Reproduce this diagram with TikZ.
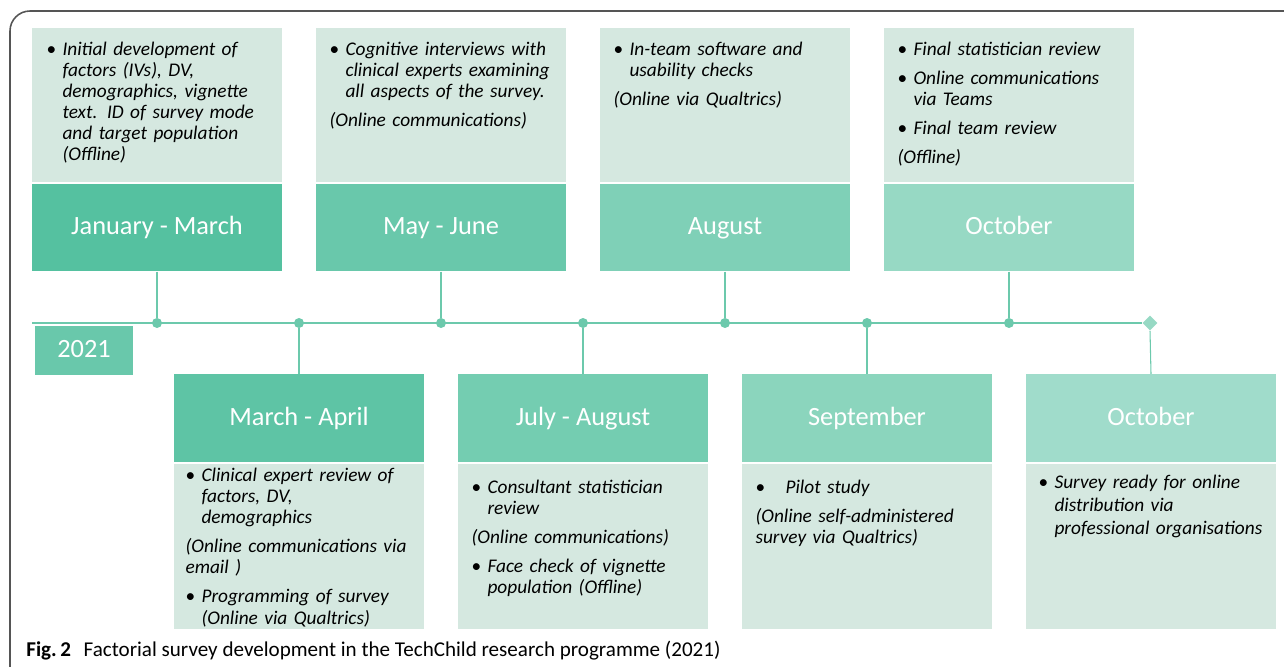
\documentclass[tikz,border=0pt]{standalone}
\usepackage{fontspec}
\usetikzlibrary{shapes.geometric}
\setmainfont{Carlito}
\setlength{\parindent}{0pt}
\definecolor{hdrA}{HTML}{55C1A0}
\definecolor{hdrB}{HTML}{5EC4A5}
\definecolor{hdrC}{HTML}{69C8AB}
\definecolor{hdrD}{HTML}{74CDB1}
\definecolor{hdrE}{HTML}{7FD0B7}
\definecolor{hdrF}{HTML}{8BD5BD}
\definecolor{hdrG}{HTML}{97D9C4}
\definecolor{hdrH}{HTML}{A0DCCB}
\definecolor{panelbg}{HTML}{D5E8E0}
\definecolor{linecol}{HTML}{6CC9AC}
\definecolor{framecol}{HTML}{555555}
\newcommand{\bul}[1]{\hangindent=0.32cm\hangafter=1\makebox[0.32cm][l]{\upshape\textbullet}#1\par}
\newcommand{\bulw}[1]{\hangindent=0.6cm\hangafter=1\makebox[0.6cm][l]{\upshape\textbullet}#1\par}
\newcommand{\plain}[1]{#1\par}
\begin{document}
\begin{tikzpicture}[x=0.02cm,y=-0.02cm,
hdr/.style={rectangle,inner sep=0pt,minimum width=5.02cm,minimum height=1.75cm,text=white,text height=1em,text depth=0.2em,font=\fontsize{15}{18}\selectfont},
panel/.style={rectangle,inner sep=0pt,fill=panelbg,minimum width=5.02cm},
note/.style={anchor=north west,inner sep=0pt,text width=4.7cm,align=left,font=\fontsize{11}{12}\selectfont\itshape\setlength{\parskip}{4.6pt}},
dot/.style={circle,fill=linecol,inner sep=0pt,minimum size=0.2cm},
tipmark/.style={diamond,fill=hdrG,inner sep=0pt,minimum size=0.3cm},
tline/.style={draw=linecol,line width=1.1pt},
stem/.style={draw=linecol,line width=0.6pt}]
\useasboundingbox (0,0) rectangle (1284,666);
% frame
\draw[framecol,line width=0.9pt,rounded corners=0.4cm] (10,700) -- (10,11) -- (1300,11);

% timeline
\coordinate (tl0) at (32,323);
\node[tipmark] (tl1) at (1150,323) {};
\foreach \i/\x in {1/157,2/299,3/441,4/583,5/725,6/867,7/1009}
  \node[dot] (d\i) at (\x,323) {};
\draw[tline] (tl0) -- (tl1.west);
\node[hdr,fill=hdrC,minimum width=1.96cm,minimum height=0.98cm] (year) at (84,350.5) {2021};

% upper months
\draw (157,227.5) node[hdr,fill=hdrA] (janmar) {January - March};
\draw (441,227.5) node[hdr,fill=hdrC] (mayjun) {May - June};
\draw (725,227.5) node[hdr,fill=hdrE] (aug) {August};
\draw (1009,227.5) node[hdr,fill=hdrG] (octA) {October};
\foreach \n/\m in {janmar/d1,mayjun/d3,aug/d5,octA/d7}
  \draw[stem] (\n.south) -- (\m.north);

% lower months
\draw (299,418) node[hdr,fill=hdrB] (marapr) {March - April};
\draw (583,418) node[hdr,fill=hdrD] (julaug) {July - August};
\draw (867,418) node[hdr,fill=hdrF] (sep) {September};
\draw (1151,418) node[hdr,fill=hdrH] (octB) {October};
\foreach \m/\n in {d2/marapr,d4/julaug,d6/sep}
  \draw[stem] (\m.south) -- (\n.north);
\draw[stem] (tl1.south) -- (octB.north);

% panels above
\foreach \n in {janmar,mayjun,aug,octA}
  \node[panel,minimum height=3.08cm,anchor=south] (p\n) at ([yshift=0.03cm]\n.north) {};
% panels below
\foreach \n in {marapr,julaug,sep,octB}
  \node[panel,minimum height=3.3cm,anchor=north] (p\n) at ([yshift=-0.03cm]\n.south) {};

% notes
\node[note] (tjanmar) at ([xshift=0.3cm,yshift=-0.28cm]pjanmar.north west) {%
\bul{Initial development of\newline factors (IVs), DV,\newline demographics, vignette\newline text. ID of survey mode\newline and target population\newline (Offline)}};
\node[note] (tmayjun) at ([xshift=0.28cm,yshift=-0.28cm]pmayjun.north west) {%
\bul{Cognitive interviews with\newline clinical experts examining\newline all aspects of the survey.}
\plain{(Online communications)}};
\node[note] (taug) at ([xshift=0.28cm,yshift=-0.28cm]paug.north west) {%
\bul{In-team software and\newline usability checks}
\plain{(Online via Qualtrics)}};
\node[note] (toctA) at ([xshift=0.28cm,yshift=-0.28cm]poctA.north west) {%
\bul{Final statistician review}
\bul{Online communications\newline via Teams}
\bul{Final team review}
\plain{(Offline)}};
\node[note] (tmarapr) at ([xshift=0.24cm,yshift=-0.08cm]pmarapr.north west) {%
\bul{Clinical expert review of\newline factors, DV,\newline demographics}
\plain{(Online communications via\newline email )}
\bul{Programming of survey\newline (Online via Qualtrics)}};
\node[note] (tjulaug) at ([xshift=0.28cm,yshift=-0.32cm]pjulaug.north west) {%
\bul{Consultant statistician\newline review}
\plain{(Online communications)}
\bul{Face check of vignette\newline population (Offline)}};
\node[note] (tsep) at ([xshift=0.28cm,yshift=-0.32cm]psep.north west) {%
\bulw{Pilot study}
\plain{(Online self-administered\newline survey via Qualtrics)}};
\node[note,font=\fontsize{11}{13.2}\selectfont\itshape] (toctB) at ([xshift=0.26cm,yshift=-0.22cm]poctB.north west) {%
\bul{Survey ready for online\newline distribution via\newline professional organisations}};

% caption
\node[anchor=west,inner sep=0pt,font=\fontsize{12}{14}\selectfont] (cap) at (26,651)
  {\textbf{Fig.\,2}\hspace{0.6em}Factorial survey development in the TechChild research programme (2021)};
\end{tikzpicture}
\end{document}
